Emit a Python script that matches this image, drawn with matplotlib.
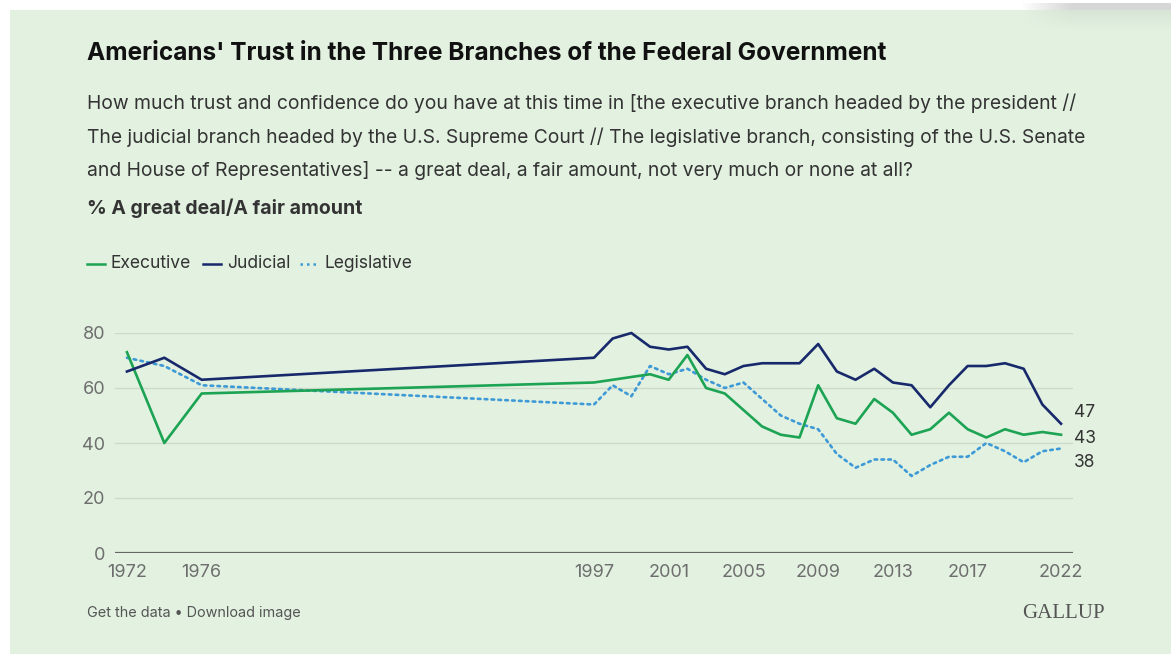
import matplotlib
matplotlib.use("Agg")
import matplotlib.pyplot as plt
from matplotlib.lines import Line2D
from matplotlib.patches import Rectangle
import numpy as np

years = [1972, 1974, 1976, 1997, 1998, 1999, 2000, 2001, 2002, 2003, 2004,
         2005, 2006, 2007, 2008, 2009, 2010, 2011, 2012, 2013, 2014, 2015,
         2016, 2017, 2018, 2019, 2020, 2021, 2022]
executive = [73, 40, 58, 62, 63, 64, 65, 63, 72, 60, 58,
             52, 46, 43, 42, 61, 49, 47, 56, 51, 43, 45,
             51, 45, 42, 45, 43, 44, 43]
judicial = [66, 71, 63, 71, 78, 80, 75, 74, 75, 67, 65,
            68, 69, 69, 69, 76, 66, 63, 67, 62, 61, 53,
            61, 68, 68, 69, 67, 54, 47]
legislative = [71, 68, 61, 54, 61, 57, 68, 65, 67, 63, 60,
               62, 56, 50, 47, 45, 36, 31, 34, 34, 28, 32,
               35, 35, 40, 37, 33, 37, 38]
xticks = [1972, 1976, 1997, 2001, 2005, 2009, 2013, 2017, 2022]
yticks = [0, 20, 40, 60, 80]

BG = "#e2f1e0"
GREEN = "#1ca353"
NAVY = "#17296b"
BLUE = "#3d9ad6"
TEXT = "#333333"

W, H = 1171, 654
fig = plt.figure(figsize=(W / 100, H / 100), dpi=100)
fig.patch.set_facecolor("white")


def fx(px):
    return px / W


def fy(py):
    return 1 - py / H


# card background
fig.add_artist(Rectangle((fx(10), 0), 1, fy(10), transform=fig.transFigure,
                         facecolor=BG, edgecolor="none", zorder=-10))

# soft grey shadow across the top right corner of the card
rows = np.arange(30)
row_a = np.where(rows < 3, 0.0,
                 np.where(rows < 10, 0.35, 0.12 * np.clip(1 - (rows - 10) / 20, 0, 1)))
col_a = np.clip(np.linspace(0, 3, 150), 0, 1)
shadow = np.zeros((30, 150, 4))
shadow[..., :3] = 0.55
shadow[..., 3] = np.outer(row_a, col_a)
shade = fig.add_axes([fx(1021), fy(30), fx(150), fy(0) - fy(30)], zorder=-5)
shade.imshow(shadow, aspect="auto", interpolation="bilinear")
shade.axis("off")

plain = ["Inter", "DejaVu Sans"]
fig.text(fx(87), fy(53), "Americans' Trust in the Three Branches of the Federal Government",
         fontsize=17.6, fontweight="bold", family=plain, color="#111111", va="center")
subtitle = [
    "How much trust and confidence do you have at this time in [the executive branch headed by the president //",
    "The judicial branch headed by the U.S. Supreme Court // The legislative branch, consisting of the U.S. Senate",
    "and House of Representatives] -- a great deal, a fair amount, not very much or none at all?",
]
for i, line in enumerate(subtitle):
    fig.text(fx(87), fy(103 + 34 * i), line, fontsize=13.9, family=plain,
             color=TEXT, va="center")
fig.text(fx(87), fy(208), "% A great deal/A fair amount", fontsize=14,
         fontweight="bold", family=plain, color=TEXT, va="center")

# legend row
legend_items = [("Executive", GREEN, "-", 87), ("Judicial", NAVY, "-", 203),
                ("Legislative", BLUE, (0, (1, 1.6)), 300)]
for label, color, ls, x0 in legend_items:
    fig.add_artist(Line2D([fx(x0), fx(x0 + 18)], [fy(264), fy(264)],
                          transform=fig.transFigure, color=color, lw=1.8, ls=ls))
    fig.text(fx(x0 + 24), fy(264), label, fontsize=12.6, family=plain,
             color=TEXT, va="center")

ax = fig.add_axes([fx(115), fy(553), fx(1073) - fx(115), fy(333) - fy(553)])
ax.set_facecolor("none")
ax.set_xlim(1971.36, 2022.64)
ax.set_ylim(0, 80)

ax.plot(years, legislative, color=BLUE, lw=1.9, ls=(0, (1, 1.6)),
        dash_capstyle="round", clip_on=False, zorder=3)
ax.plot(years, executive, color=GREEN, lw=1.9, clip_on=False, zorder=4)
ax.plot(years, judicial, color=NAVY, lw=1.9, clip_on=False, zorder=5)

# end-of-line values, nudged apart so they do not collide
for series, dy in ((judicial, 8), (executive, -2.5), (legislative, -10)):
    ax.annotate(f"{series[-1]}", (years[-1], series[-1]), xytext=(9, dy),
                textcoords="offset points", va="center", ha="left",
                fontsize=12.5, family=plain, color=TEXT, annotation_clip=False)

for y in yticks[1:]:
    ax.axhline(y, color="#cdd9ca", lw=1, zorder=1)
ax.axhline(0, color="#666666", lw=1.6, zorder=2)
for s in ax.spines.values():
    s.set_visible(False)
ax.set_xticks(xticks)
ax.set_yticks(yticks)
ax.tick_params(length=0, labelsize=13, labelcolor="#6e6e6e", pad=7)
ax.tick_params(axis="x", pad=8)
for lbl in ax.get_xticklabels() + ax.get_yticklabels():
    lbl.set_family(plain)

fig.text(fx(87), fy(613), "Get the data \u2022 Download image", fontsize=10.4,
         family=plain, color="#555555", va="center")
fig.text(fx(1105), fy(613), "GALLUP", fontsize=15, family=["Liberation Serif", "DejaVu Serif"],
         color="#555555", va="center", ha="right")

fig.savefig("out.png", dpi=100, facecolor=fig.get_facecolor())
